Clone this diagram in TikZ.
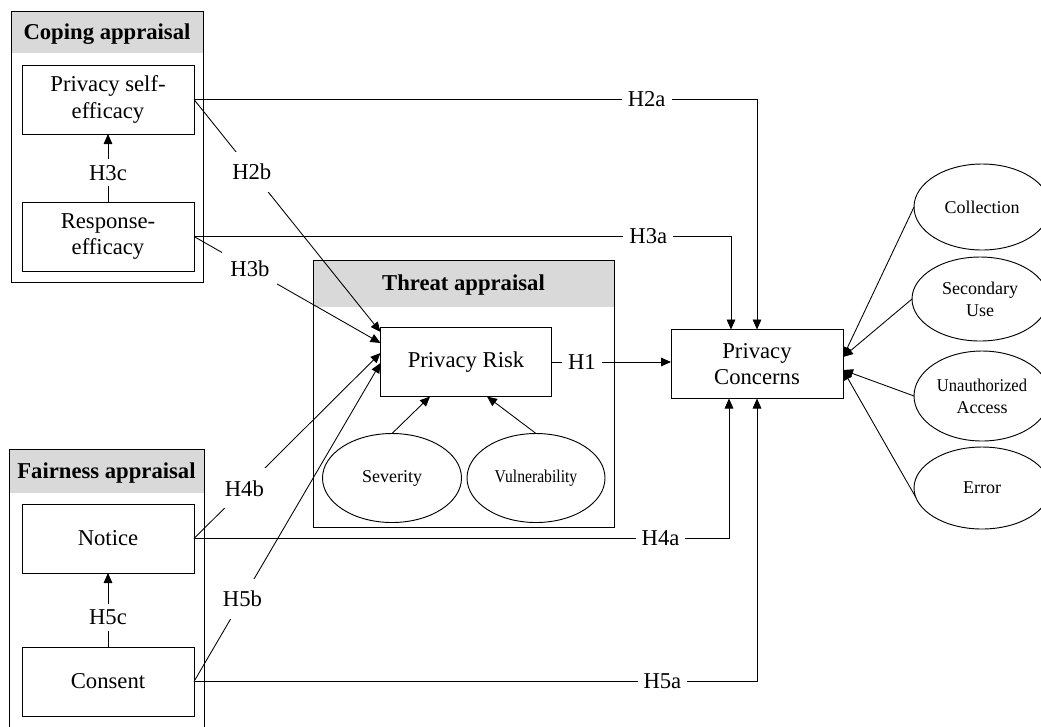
\documentclass[tikz,border=0pt]{standalone}
\usepackage{fontspec}
\setmainfont{Liberation Serif}
\usetikzlibrary{arrows.meta,shapes.geometric}
\definecolor{hdrgray}{RGB}{217,217,217}
\newlength\pxl \setlength\pxl{0.75pt}
\begin{document}
\begin{tikzpicture}[x=0.75pt,y=-0.75pt,
  font=\fontsize{17}{20}\selectfont,
  every node/.style={inner sep=0pt, outer sep=0pt},
  box/.style={draw, line width=0.7pt, fill=white, align=center, minimum width=172\pxl, minimum height=69\pxl},
  latent/.style={draw, ellipse, line width=0.7pt, align=center, font=\fontsize{13.5}{16.5}\selectfont},
  frame/.style={draw, line width=0.7pt},
  hdr/.style={fill=hdrgray, font=\bfseries\fontsize{17}{20}\selectfont, text height=15pt, text depth=4pt},
  conn/.style={line width=0.65pt, -{Triangle[length=7.5pt,width=6.5pt]}},
  lbl/.style={fill=white, inner sep=4.5pt},
  dlbl/.style={fill=white, inner xsep=6pt, inner ysep=9pt},
]
\clip (0,0) rectangle (1041,726);
\fill[white] (0,0) rectangle (1041,726);

% ---- Coping appraisal
\node[hdr, minimum width=192\pxl, minimum height=42\pxl] (copinghdr) at (107,32) {Coping appraisal};
\node[frame, minimum width=192\pxl, minimum height=271\pxl] (coping) at (107,146.5) {};
\node[box] (pse) at (108,99.5) {Privacy self-\\efficacy};
\node[box] (re) at (108,236.5) {Response-\\efficacy};

% ---- Threat appraisal
\node[hdr, minimum width=301\pxl, minimum height=47\pxl] (threathdr) at (463.5,283.5) {Threat appraisal};
\node[frame, minimum width=301\pxl, minimum height=267\pxl] (threat) at (463.5,393.5) {};
\node[box, minimum width=171\pxl] (pr) at (466,362) {Privacy Risk};
\node[latent, minimum width=139\pxl, minimum height=89\pxl] (sev) at (392,478) {Severity};
\node[latent, minimum width=138\pxl, minimum height=89\pxl] (vul) at (536,478) {\scalebox{0.87}[1]{Vulnerability}};

% ---- Fairness appraisal
\node[hdr, minimum width=195\pxl, minimum height=44\pxl] (fairhdr) at (106.5,471) {Fairness appraisal};
\node[frame, minimum width=195\pxl, minimum height=300\pxl] (fair) at (106.5,599) {};
\node[box] (notice) at (108,538.5) {Notice};
\node[box] (consent) at (108,681.5) {Consent};

% ---- Privacy concerns and dimensions
\node[box] (pc) at (757,364) {Privacy\\Concerns};
\node[latent, minimum width=136\pxl, minimum height=86\pxl] (col) at (982,207) {Collection};
\node[latent, minimum width=136\pxl, minimum height=84\pxl] (sec) at (980,299) {Secondary\\Use};
\node[latent, minimum width=136\pxl, minimum height=90\pxl] (una) at (982,396) {\scalebox{0.92}[1]{Unauthorized}\\Access};
\node[latent, minimum width=136\pxl, minimum height=82\pxl] (err) at (982,488) {Error};

% ---- connectors within groups
\draw[conn] (re.north) -- node[lbl, pos=0.43] {H3c} (pse.south);
\draw[conn] (consent.north) -- node[lbl, pos=0.4] {H5c} (notice.south);
\draw[conn] (sev.north) -- ([xshift=-36\pxl]pr.south);
\draw[conn] (vul.north) -- ([xshift=21\pxl]pr.south);

% ---- to privacy risk
\draw[conn] (pse.east) -- node[dlbl, pos=0.31] {H2b} ([yshift=30\pxl]pr.west);
\draw[conn] (re.east) -- node[dlbl, pos=0.3] {H3b} ([yshift=19\pxl]pr.west);
\draw[conn] (notice.east) -- node[dlbl, pos=0.27] {H4b} ([yshift=9\pxl]pr.west);
\draw[conn] (consent.east) -- node[dlbl, pos=0.26] {H5b} ([yshift=-1\pxl]pr.west);

% ---- to privacy concerns
\draw[conn] (pr.east) -- node[lbl, pos=0.255] {H1} (pr.east -| pc.west);
\draw[conn] (pse.east) -| node[lbl, pos=0.402] {H2a} (pc.north);
\draw[conn] (re.east) -| node[lbl, pos=0.423] {H3a} ([xshift=-26\pxl]pc.north);
\draw[conn] (notice.east) -| node[lbl, pos=0.436] {H4a} ([xshift=-28\pxl]pc.south);
\draw[conn] (consent.east) -| node[lbl, pos=0.416] {H5a} (pc.south);

% ---- dimensions
\draw[conn] (col.west) -- ([yshift=7\pxl]pc.east);
\draw[conn] (sec.west) -- ([yshift=7\pxl]pc.east);
\draw[conn] (una.west) -- ([yshift=-6\pxl]pc.east);
\draw[conn] (err.188) -- ([yshift=-6\pxl]pc.east);
\end{tikzpicture}
\end{document}
